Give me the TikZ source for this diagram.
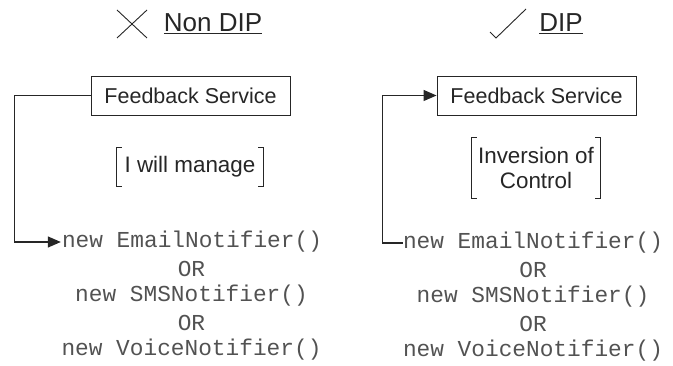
\documentclass[tikz,border=0pt]{standalone}
\usepackage{fontspec}
\setmainfont{Liberation Sans}
\setmonofont{Liberation Mono}
\usepackage{tikz}
\usetikzlibrary{arrows.meta,positioning}

\begin{document}
\begin{tikzpicture}[
  x=1pt, y=-1pt,
  title/.style={font=\fontsize{26}{30}\selectfont, text=black!85, inner sep=0pt},
  box/.style={draw=black!85, line width=0.9pt, minimum width=199pt, minimum height=39pt, inner sep=0pt, text=black!85, font=\fontsize{21.5}{25}\selectfont},
  note/.style={inner sep=0pt, align=center, text=black!85, font=\fontsize{22.4}{25}\selectfont},
  code/.style={inner sep=0pt, text=black!68, font=\ttfamily\fontsize{22.8}{27}\selectfont},
  conn/.style={draw=black!85, line width=1.2pt},
  tip/.style={-{Triangle[length=13pt,width=11pt]}},
  glyph/.style={draw=black!85, line width=0.9pt}
]
\useasboundingbox (0,0) rectangle (673,366);

% titles
\node[title] (ltitle) at (213,24) {\underline{Non DIP}};
\node[title] (rtitle) at (561,24) {\underline{DIP}};
\draw[glyph] (117,10) -- (147,38) (147,10) -- (117,38);
\draw[glyph] (490,32) -- (496,38) -- (526,9);

% non DIP side
\node[box] (lfb) at (190.5,95.5) {Feedback Service};
\node[note, minimum width=146pt, minimum height=39pt] (lmanage) at (190,167) {I will manage};
\draw[glyph] ([xshift=5pt]lmanage.north west) -| (lmanage.south west) -- ++(5,0);
\draw[glyph] ([xshift=-5pt]lmanage.north east) -| (lmanage.south east) -- ++(-5,0);

\node[code] (lemail) at (192,242) {new EmailNotifier()};
\node[code] (lor1) at (191.5,269) {OR};
\node[code] (lsms) at (191.5,296) {new SMSNotifier()};
\node[code] (lor2) at (191.5,323) {OR};
\node[code] (lvoice) at (191.5,350) {new VoiceNotifier()};

\draw[conn, tip] (lfb.west) -- ++(-76,0) |- ([xshift=-1pt]lemail.west);

% DIP side
\node[box] (rfb) at (536.5,95.5) {Feedback Service};
\node[note, minimum width=128pt, minimum height=60pt] (rioc) at (536,168) {Inversion of\\Control};
\draw[glyph] ([xshift=5pt]rioc.north west) -| (rioc.south west) -- ++(5,0);
\draw[glyph] ([xshift=-5pt]rioc.north east) -| (rioc.south east) -- ++(-5,0);

\node[code] (remail) at (533,243) {new EmailNotifier()};
\node[code] (ror1) at (533,270) {OR};
\node[code] (rsms) at (533,297) {new SMSNotifier()};
\node[code] (ror2) at (533,324) {OR};
\node[code] (rvoice) at (533,351) {new VoiceNotifier()};

\draw[conn, tip] (remail.west) -- ++(-20,0) |- (rfb.west);
\end{tikzpicture}
\end{document}
